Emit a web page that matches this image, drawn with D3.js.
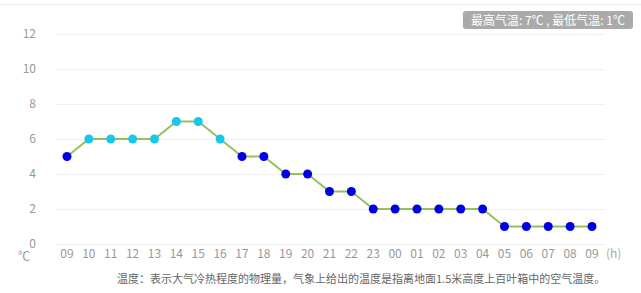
<!DOCTYPE html>
<html lang="zh">
<head>
    <meta charset="UTF-8">
    <title>温度</title>
    <script src="https://d3js.org/d3.v7.min.js"></script>
    <style>
        body { margin: 0; background: #fff; }
        text { font-family: "Noto Sans CJK SC", "Noto Sans", sans-serif; }
    </style>
</head>
<body>
    <svg width="641" height="293"></svg>
    <script>
        const hours = ["09","10","11","12","13","14","15","16","17","18","19","20","21","22","23","00","01","02","03","04","05","06","07","08","09"];
        const temps = [5, 6, 6, 6, 6, 7, 7, 6, 5, 5, 4, 4, 3, 3, 2, 2, 2, 2, 2, 2, 1, 1, 1, 1, 1];
        const yTicks = [0, 2, 4, 6, 8, 10, 12];
        const summary = "最高气温: 7℃ , 最低气温: 1℃";
        const note = "温度：表示大气冷热程度的物理量，气象上给出的温度是指离地面1.5米高度上百叶箱中的空气温度。";

        const svg = d3.select("svg");
        const data = temps.map((t, i) => ({ i: i, h: hours[i], t: t }));

        const x = d3.scaleLinear().domain([0, hours.length - 1]).range([67, 592]);
        const y = d3.scaleLinear().domain([0, 12]).range([244, 34]);

        // 上边框
        svg.append("line")
            .attr("x1", 0).attr("x2", 641).attr("y1", 4.5).attr("y2", 4.5)
            .attr("stroke", "#eeeeee");

        // 网格线
        svg.append("g").selectAll("line")
            .data(yTicks)
            .enter().append("line")
            .attr("x1", 56).attr("x2", 605)
            .attr("y1", d => y(d) + 0.5).attr("y2", d => y(d) + 0.5)
            .attr("stroke", "#f0f0f0");

        // y轴标签
        svg.append("g").selectAll("text")
            .data(yTicks)
            .enter().append("text")
            .attr("x", 36).attr("y", d => y(d) + 4)
            .attr("text-anchor", "end")
            .attr("font-size", 12)
            .attr("fill", "#999")
            .text(d => d);

        svg.append("text")
            .attr("x", 18).attr("y", 261)
            .attr("font-size", 12).attr("fill", "#999")
            .text("℃");

        // x轴标签
        svg.append("g").selectAll("text")
            .data(data)
            .enter().append("text")
            .attr("x", d => x(d.i)).attr("y", 258)
            .attr("text-anchor", "middle")
            .attr("font-size", 12)
            .attr("fill", "#999")
            .text(d => d.h);

        svg.append("text")
            .attr("x", 606).attr("y", 258)
            .attr("font-size", 12).attr("fill", "#aaa")
            .text("(h)");

        // 折线
        const line = d3.line().x(d => x(d.i)).y(d => y(d.t));
        svg.append("path")
            .datum(data)
            .attr("d", line)
            .attr("fill", "none")
            .attr("stroke", "#96c05a")
            .attr("stroke-width", 2);

        svg.append("g").selectAll("circle")
            .data(data)
            .enter().append("circle")
            .attr("cx", d => x(d.i)).attr("cy", d => y(d.t))
            .attr("r", 4.5)
            .attr("fill", d => d.t >= 6 ? "#18c8ec" : "#0000e6");

        // 最高/最低气温
        const box = svg.append("g");
        const lbl = box.append("text")
            .attr("y", 24.5)
            .attr("text-anchor", "middle")
            .attr("font-size", 12)
            .attr("fill", "#fff")
            .text(summary);
        const bw = lbl.node().getBBox().width + 16;
        box.insert("rect", "text")
            .attr("x", 633 - bw).attr("y", 11)
            .attr("width", bw).attr("height", 18)
            .attr("rx", 3)
            .attr("fill", "#aaaaaa");
        lbl.attr("x", 633 - bw / 2);

        // 说明
        svg.append("text")
            .attr("x", 117).attr("y", 283)
            .attr("font-size", 11)
            .attr("fill", "#666")
            .text(note);
    </script>
</body>
</html>
